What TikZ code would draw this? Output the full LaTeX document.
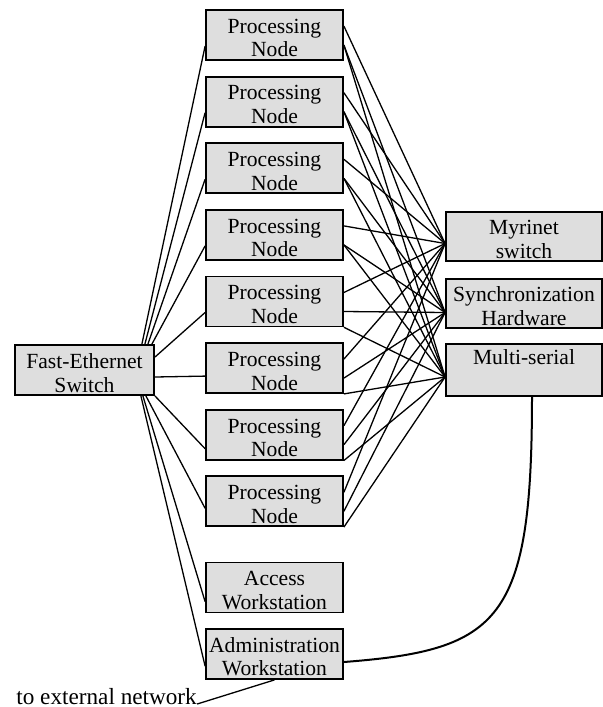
\documentclass[tikz,border=0pt]{standalone}
\usepackage{fontspec}
\setmainfont{Liberation Serif}
\usetikzlibrary{calc}

\definecolor{boxgray}{gray}{0.87}

% two lines of box text, set a little low in the box
\newcommand{\boxlines}[2]{\rule{0pt}{10.3pt}#1\\#2}

\tikzset{
	unit/.style = {draw, line width = 0.9pt, fill = boxgray, align = center, inner sep = 0pt,
		font = \fontsize{10.8}{11.8}\selectfont},
	pnode/.style = {unit, minimum width = 68.5pt, minimum height = 25pt},
	widebox/.style = {unit, minimum width = 78pt, minimum height = 24.5pt},
	link/.style = {line width = 0.65pt},
}

\begin{document}
\begin{tikzpicture}[x = 0.5pt, y = -0.5pt]
		\def\pX{274.5};
		\def\pTOP{35};
		\def\pSTEP{66.6};

		\useasboundingbox (0,0) rectangle (603,707);

		% processing nodes
		\foreach \i in {1,...,8}
			\node [pnode] (P\i) at (\pX, {\pTOP + (\i-1)*\pSTEP}) {\boxlines{Processing}{Node}};

		\node [pnode] (AW) at (\pX, 587.5) {\boxlines{Access}{Workstation}};
		\node [pnode] (AD) at (\pX, 654) {\boxlines{Administration}{Workstation}};
		\node [pnode, minimum width = 69.5pt] (SW) at (84.5, 370) {\boxlines{Fast-Ethernet}{Switch}};

		\node [widebox] (MY) at (524, 236.5) {\boxlines{Myrinet}{switch}};
		\node [widebox] (SY) at (524, 303.5) {\boxlines{Synchronization}{Hardware}};
		\node [widebox] (MS) at (524, 370) {\boxlines{Multi-serial}{\strut}};

		\coordinate (MYin) at ($ (MY.west) + (0,7) $);
		\coordinate (SYin) at ($ (SY.west) + (0,9) $);
		\coordinate (MSin) at ($ (MS.west) + (0,7) $);

		% fast-ethernet links
		\foreach \i/\dx in {1/-13, 2/-10, 3/-7, 4/-3}
			\draw [link] ($ (SW.north east) + (\dx,0) $) -- ($ (P\i.north west) + (0,37) $);
		\draw [link] ($ (SW.north east) + (0,13) $) -- ($ (P5.north west) + (0,37) $);
		\draw [link] ($ (SW.east) + (0,7) $) -- ($ (P6.north west) + (0,34) $);
		\draw [link] (SW.south east) -- ($ (P7.north west) + (0,40) $);
		\foreach \n/\dx/\dy in {P8/-9/33, AW/-12/40, AD/-14/38}
			\draw [link] ($ (SW.south east) + (\dx,0) $) -- ($ (\n.north west) + (0,\dy) $);

		% myrinet, sync and serial links
		\foreach \i in {1,...,8} {
			\draw [link] ($ (P\i.north east) + (0,17) $) -- (MYin);
			\draw [link] ($ (P\i.north east) + (0,36) $) -- (SYin);
		}
		\foreach \i in {1,...,4}
			\draw [link] ($ (P\i.north east) + (0,36) $) -- (MSin);
		\foreach \i in {5,...,8}
			\draw [link] (P\i.south east) -- (MSin);

		% serial line to the administration workstation
		\draw [line width = 1pt] ($ (MS.south) + (8,0) $) .. controls +(0,225) and +(156,-12) .. ($ (AD.east) + (0,8) $);

		\node [anchor = base west, inner sep = 0pt, font = \fontsize{11.6}{12}\selectfont] (EXT) at (16,704) {to external network};
		\draw [link] (EXT.base east) -- (AD.south);
	\end{tikzpicture}
\end{document}
